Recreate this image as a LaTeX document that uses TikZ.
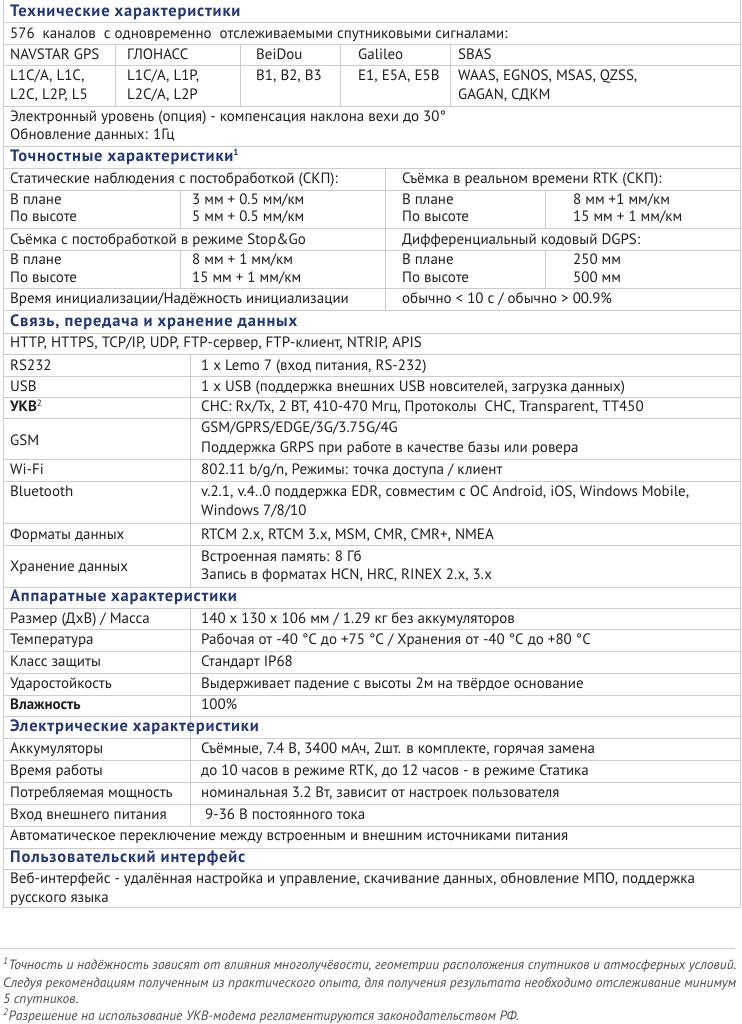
\documentclass[tikz,border=0pt]{standalone}
\usepackage{fontspec}
\setmainfont{PT Sans}
\begin{document}
\begin{tikzpicture}[x=1pt,y=-1pt,
  txt/.style={anchor=west,inner sep=0pt,font=\fontsize{15}{16}\selectfont,text=black!88,text height=12pt,text depth=3pt},
  hdr/.style={txt,font=\fontsize{16.5}{17}\selectfont\bfseries\addfontfeatures{LetterSpace=5},text=hblue},
  fn/.style={anchor=west,inner sep=0pt,font=\fontsize{13.5}{14}\selectfont\itshape,text=black!70,text height=10pt,text depth=3pt},
  gl/.style={draw=black!20,line width=0.8pt}]
\definecolor{hblue}{RGB}{33,56,122}
\useasboundingbox (0,0) rectangle (741,1024);
\newcount\tcnt
\newcommand\tx[4][txt]{\global\advance\tcnt by 1\node[#1] (t\the\tcnt) at (#2,#3) {#4};}
% horizontal lines
\foreach \y in {22,44,65,106,146,168,190,228,250,288,310,333,354,376,397,418,459,481,523,545,587,608,629,651,673,695,716,738,760,782,804,826,848,869,907}
  \draw[gl] (3,\y) -- (740,\y);
\draw[gl] (3,0) -- (3,907);
\draw[gl] (740,0) -- (740,907);
% vertical separators
\foreach \x in {115,240,340,450} \draw[gl] (\x,44) -- (\x,106);
\draw[gl] (385,168) -- (385,310);
\draw[gl] (180,190) -- (180,228); \draw[gl] (545,190) -- (545,228);
\draw[gl] (180,250) -- (180,288); \draw[gl] (545,250) -- (545,288);
\draw[gl] (190,354) -- (190,587);
\draw[gl] (190,608) -- (190,826);
\draw[gl] (0,948) -- (735,948);
% text
\tx[hdr]{10}{12}{Технические характеристики}
\tx{10}{34}{576 \ каналов \ с одновременно \ отслеживаемыми спутниковыми сигналами:}
\tx{10}{55}{NAVSTAR GPS}\tx{127}{55}{ГЛОНАСС}\tx{256}{55}{BeiDou}\tx{358}{55}{Galileo}\tx{458}{55}{SBAS}
\tx{10}{76}{L1C/A, L1C,}\tx{127}{76}{L1C/A, L1P,}\tx{256}{76}{B1, B2, B3}\tx{358}{76}{E1, E5A, E5B}\tx{458}{76}{WAAS, EGNOS, MSAS, QZSS,}
\tx{10}{95}{L2C, L2P, L5}\tx{127}{95}{L2C/A, L2P}\tx{458}{95}{GAGAN, СДКМ}
\tx{10}{117}{Электронный уровень (опция) - компенсация наклона вехи до 30°}
\tx{10}{135}{Обновление данных: 1Гц}
\tx[hdr]{10}{157}{Точностные характеристики\textsuperscript{\fontsize{9}{9}\selectfont 1}}
\tx{10}{179}{Статические наблюдения с постобработкой (СКП):}\tx{402}{179}{Съёмка в реальном времени RTK (СКП):}
\tx{10}{200}{В плане}\tx{192}{200}{3 мм + 0.5 мм/км}\tx{402}{200}{В плане}\tx{573}{200}{8 мм +1 мм/км}
\tx{10}{217}{По высоте}\tx{192}{217}{5 мм + 0.5 мм/км}\tx{402}{217}{По высоте}\tx{573}{217}{15 мм + 1 мм/км}
\tx{10}{240}{Съёмка с постобработкой в режиме Stop\&Go}\tx{402}{240}{Дифференциальный кодовый DGPS:}
\tx{10}{260}{В плане}\tx{192}{260}{8 мм + 1 мм/км}\tx{402}{260}{В плане}\tx{573}{260}{250 мм}
\tx{10}{278}{По высоте}\tx{192}{278}{15 мм + 1 мм/км}\tx{402}{278}{По высоте}\tx{573}{278}{500 мм}
\tx{10}{299}{Время инициализации/Надёжность инициализации}\tx{402}{299}{обычно < 10 с / обычно > 00.9\%}
\tx[hdr]{10}{322}{Связь, передача и хранение данных}
\tx{10}{343}{HTTP, HTTPS, TCP/IP, UDP, FTP-сервер, FTP-клиент, NTRIP, APIS}
\tx{10}{366}{RS232}\tx{201}{366}{1 x Lemo 7 (вход питания, RS-232)}
\tx{10}{387}{USB}\tx{201}{387}{1 x USB (поддержка внешних USB новсителей, загрузка данных)}
\tx{10}{407}{\textbf{УКВ}\textsuperscript{\fontsize{9}{9}\selectfont 2}}\tx{201}{407}{CHC: Rx/Tx, 2 BT, 410-470 Мгц, Протоколы \ CHC, Transparent, TT450}
\tx{10}{441}{GSM}\tx{201}{428}{GSM/GPRS/EDGE/3G/3.75G/4G}\tx{201}{448}{Поддержка GRPS при работе в качестве базы или ровера}
\tx{10}{470}{Wi-Fi}\tx{201}{470}{802.11 b/g/n, Режимы: точка доступа / клиент}
\tx{10}{492}{Bluetooth}\tx{201}{492}{v.2.1, v.4..0 поддержка EDR, совместим с ОС Android, iOS, Windows Mobile,}\tx{201}{511}{Windows 7/8/10}
\tx{10}{535}{Форматы данных}\tx{201}{535}{RTCM 2.x, RTCM 3.x, MSM, CMR, CMR+, NMEA}
\tx{10}{567}{Хранение данных}\tx{201}{557}{Встроенная память: 8 Гб}\tx{201}{575}{Запись в форматах HCN, HRC, RINEX 2.x, 3.x}
\tx[hdr]{10}{597}{Аппаратные характеристики}
\tx{10}{619}{Размер (ДхВ) / Масса}\tx{201}{619}{140 x 130 x 106 мм / 1.29 кг без аккумуляторов}
\tx{10}{640}{Температура}\tx{201}{640}{Рабочая от -40 °С до +75 °С / Хранения от -40 °С до +80 °С}
\tx{10}{662}{Класс защиты}\tx{201}{662}{Стандарт IP68}
\tx{10}{684}{Ударостойкость}\tx{201}{684}{Выдерживает падение с высоты 2м на твёрдое основание}
\tx{10}{705}{\textbf{Влажность}}\tx{201}{705}{100\%}
\tx[hdr]{10}{727}{Электрические характеристики}
\tx{10}{749}{Аккумуляторы}\tx{201}{749}{Съёмные, 7.4 В, 3400 мАч, 2шт. в комплекте, горячая замена}
\tx{10}{771}{Время работы}\tx{201}{771}{до 10 часов в режиме RTK, до 12 часов - в режиме Статика}
\tx{10}{793}{Потребляемая мощность}\tx{201}{793}{номинальная 3.2 Вт, зависит от настроек пользователя}
\tx{10}{815}{Вход внешнего питания}\tx{205}{815}{9-36 В постоянного тока}
\tx{10}{836}{Автоматическое переключение между встроенным и внешним источниками питания}
\tx[hdr]{10}{858}{Пользовательский интерфейс}
\tx{10}{879}{Веб-интерфейс - удалённая настройка и управление, скачивание данных, обновление МПО, поддержка}
\tx{10}{898}{русского языка}
\tx[fn]{3}{966}{\textsuperscript{1}Точность и надёжность зависят от влияния многолучёвости, геометрии расположения спутников и атмосферных условий.}
\tx[fn]{3}{984}{Следуя рекомендациям полученным из практического опыта, для получения результата необходимо отслеживание минимум}
\tx[fn]{3}{1000}{5 спутников.}
\tx[fn]{3}{1017}{\textsuperscript{2}Разрешение на использование УКВ-модема регламентируются законодательством РФ.}
\end{tikzpicture}
\end{document}
